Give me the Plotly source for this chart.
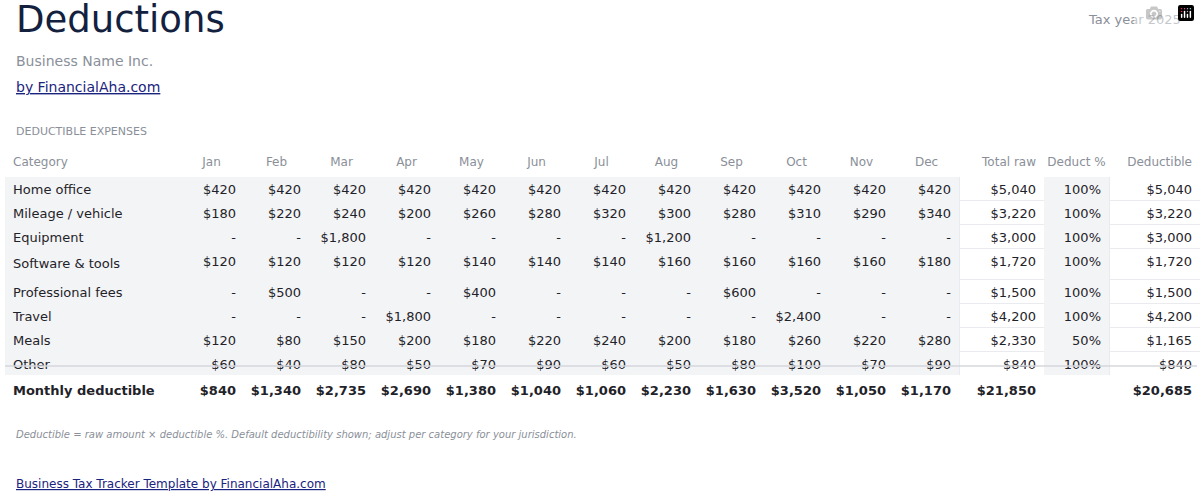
import plotly.graph_objects as go

months = ["Jan","Feb","Mar","Apr","May","Jun","Jul","Aug","Sep","Oct","Nov","Dec"]
categories = ["Home office","Mileage / vehicle","Equipment","Software &amp; tools",
              "Professional fees","Travel","Meals","Other"]
home_office = [420]*12
mileage = [180,220,240,200,260,280,320,300,280,310,290,340]
equipment = [0,0,1800,0,0,0,0,1200,0,0,0,0]
software = [120,120,120,120,140,140,140,160,160,160,160,180]
prof_fees = [0,500,0,0,400,0,0,0,600,0,0,0]
travel = [0,0,0,1800,0,0,0,0,0,2400,0,0]
meals = [120,80,150,200,180,220,240,200,180,260,220,280]
other = [60,40,80,50,70,90,60,50,80,100,70,90]
deduct_pct = [100,100,100,100,100,100,50,100]

series = [home_office, mileage, equipment, software, prof_fees, travel, meals, other]

def money(v):
    return "-" if v == 0 else "${:,.0f}".format(v)

n = len(categories)
totals = [sum(s) for s in series]
deductibles = [t*p/100 for t, p in zip(totals, deduct_pct)]
monthly = [sum(s[m]*p/100 for s, p in zip(series, deduct_pct)) for m in range(12)]

cols = [categories + ["<b>Monthly deductible</b>"]]
for m in range(12):
    cols.append([money(s[m]) for s in series] + ["<b>%s</b>" % money(monthly[m])])
cols.append([money(t) for t in totals] + ["<b>%s</b>" % money(sum(totals))])
cols.append(["%d%%" % p for p in deduct_pct] + [""])
cols.append([money(d) for d in deductibles] + ["<b>%s</b>" % money(sum(deductibles))])

GRAY = "#f3f4f6"
SEP = "#e9ebee"
kinds = ["g"]*13 + ["w", "g", "w"]
fills = [[(GRAY if k == "g" else "white")]*n + ["white"] for k in kinds]
lines = [[(GRAY if k == "g" else SEP)]*n + ["white"] for k in kinds]

headers = ["Category"] + months + ["Total\u00a0raw", "Deduct\u00a0%", "Deductible"]
halign = ["left"] + ["center"]*12 + ["right", "center", "right"]
calign = ["left"] + ["right"]*15
widths = [174] + [65]*12 + [85, 65, 91]

W, H = 1200, 496
top = 149
rowh = 24
fig = go.Figure(go.Table(
    domain=dict(x=[5/W, 1.0], y=[0, 1 - top/H]),
    columnwidth=widths,
    header=dict(values=headers, align=halign, height=27,
                fill_color="white", line_color="white",
                font=dict(family="DejaVu Sans", size=12, color="#8a8f99")),
    cells=dict(values=cols, align=calign, height=rowh,
               fill_color=fills, line=dict(color=lines, width=1),
               font=dict(family="DejaVu Sans", size=13, color="#1f2329")),
))

foot_y = top + 27 + n*rowh - 2
fig.add_shape(type="line", xref="paper", yref="paper",
              x0=5/W, x1=1197/W, y0=1 - foot_y/H, y1=1 - foot_y/H,
              line=dict(color="#d4d7dc", width=1.5))

def ann(text, x, y, size, color, xanchor="left", italic=False):
    fig.add_annotation(text=text, x=x/W, y=1 - y/H, xref="paper", yref="paper",
                       xanchor=xanchor, yanchor="middle", showarrow=False,
                       font=dict(family="DejaVu Sans", size=size, color=color,
                                 style="italic" if italic else "normal"))

ann("Deductions", 14, 20, 37, "#13213f")
ann("Tax year 2025", 1183, 20, 13, "#8a8f99", xanchor="right")
ann("Business Name Inc.", 14, 61, 14, "#8a8f99")
ann("<u>by FinancialAha.com</u>", 14, 87, 14, "#1a237e")
ann("DEDUCTIBLE EXPENSES", 14, 131, 11, "#8a8f99")
ann("Deductible = raw amount × deductible %. Default deductibility shown; adjust per category for your jurisdiction.",
    14, 434, 10, "#8a8f99", italic=True)
ann("<u>Business Tax Tracker Template by FinancialAha.com</u>", 14, 484, 12, "#1a237e")

fig.update_layout(width=W, height=H, margin=dict(l=0, r=0, t=0, b=0),
                  paper_bgcolor="white", plot_bgcolor="white")
fig.write_html("out.html",
               post_script="document.body.style.margin='0';document.body.style.overflow='hidden';")
